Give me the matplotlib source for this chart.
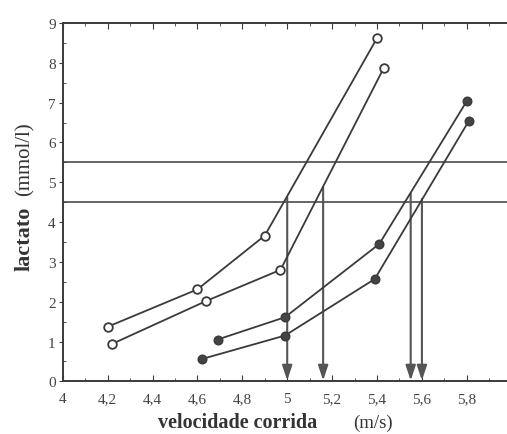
import numpy as np
import matplotlib.pyplot as plt
from matplotlib.ticker import MultipleLocator, FuncFormatter

plt.rcParams['font.family'] = ['Liberation Serif', 'DejaVu Serif']

# dados
x_ab1 = [4.20, 4.60, 4.90, 5.40]
y_ab1 = [1.37, 2.31, 3.66, 8.62]
x_ab2 = [4.22, 4.64, 4.97, 5.43]
y_ab2 = [0.94, 2.02, 2.80, 7.87]
x_ch1 = [4.69, 4.99, 5.41, 5.80]
y_ch1 = [1.05, 1.61, 3.45, 7.04]
x_ch2 = [4.62, 4.99, 5.39, 5.81]
y_ch2 = [0.56, 1.15, 2.57, 6.55]

limiares = [4.5, 5.5]
seta_x = [5.00, 5.16, 5.55, 5.60]
seta_topo = [4.62, 4.88, 4.72, 4.58]

cor = '#3a3a3a'
cor_seta = '#555555'

fig = plt.figure(figsize=(5.07, 4.35), dpi=100)
ax = fig.add_axes([0.1237, 0.1211, 0.8856, 0.8237])

for yl in limiares:
    ax.axhline(yl, color=cor, lw=1.1, zorder=1)

for xs, yt in zip(seta_x, seta_topo):
    ax.annotate('', xy=(xs, 0.02), xytext=(xs, yt),
                arrowprops=dict(arrowstyle='-|>,head_length=0.9,head_width=0.3',
                                color=cor_seta, lw=1.5, shrinkA=0, shrinkB=0),
                zorder=2)

for xs, ys in [(x_ab1, y_ab1), (x_ab2, y_ab2)]:
    ax.plot(xs, ys, color=cor, lw=1.3, marker='o', ms=6.2, mfc='white',
            mec=cor, mew=1.3, zorder=3)
for xs, ys in [(x_ch1, y_ch1), (x_ch2, y_ch2)]:
    ax.plot(xs, ys, color=cor, lw=1.3, marker='o', ms=6.2, mfc='#444444',
            mec=cor, mew=1.0, zorder=3)

ax.set_xlim(4, 6)
ax.set_ylim(0, 9)
ax.xaxis.set_major_locator(MultipleLocator(0.2))
ax.xaxis.set_minor_locator(MultipleLocator(0.1))
ax.yaxis.set_major_locator(MultipleLocator(1))
ax.yaxis.set_minor_locator(MultipleLocator(0.5))
ax.xaxis.set_major_formatter(FuncFormatter(lambda v, p: ('%g' % round(v, 1)).replace('.', ',')))

ax.tick_params(axis='x', which='both', direction='in', top=True, labelsize=11,
               colors=cor, labelcolor='#444444', pad=8)
ax.tick_params(axis='x', which='major', length=4)
ax.tick_params(axis='x', which='minor', length=2)
ax.tick_params(axis='y', which='major', direction='out', length=3, labelsize=11,
               colors=cor, labelcolor='#444444', pad=2)
ax.tick_params(axis='y', which='minor', direction='in', length=2, colors=cor)
for s in ax.spines.values():
    s.set_color(cor)
    s.set_linewidth(1.4)

fig.text(0.468, 0.016, 'velocidade corrida', fontsize=14.5, fontweight='bold',
         color='#333333', ha='center', va='baseline')
fig.text(0.736, 0.016, '(m/s)', fontsize=13.5, color='#333333', ha='center', va='baseline')
fig.text(0.058, 0.450, 'lactato', fontsize=16, fontweight='bold', rotation=90,
         rotation_mode='anchor', color='#333333', ha='center', va='baseline')
fig.text(0.058, 0.635, '(mmol/l)', fontsize=15, rotation=90,
         rotation_mode='anchor', color='#333333', ha='center', va='baseline')

fig.savefig('out.png', dpi=100)
